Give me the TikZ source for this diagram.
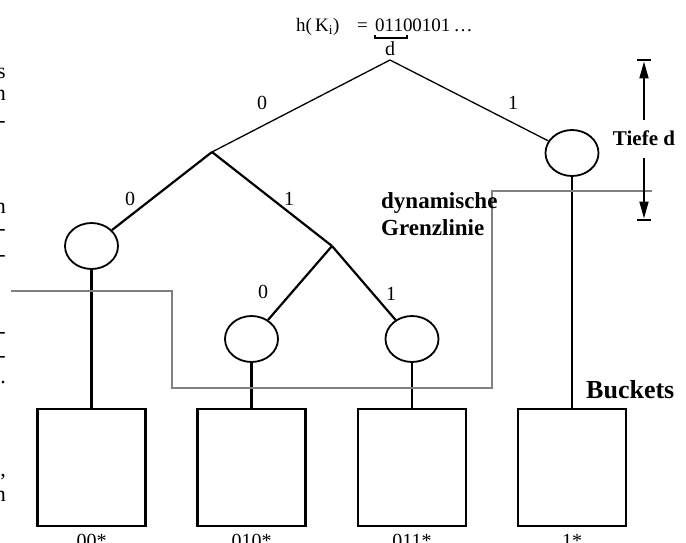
\documentclass[tikz,border=0pt]{standalone}
\usepackage{fontspec}
\setmainfont{Liberation Serif}
\usetikzlibrary{shapes.geometric,arrows.meta}
\newcommand\pxsize[1]{\fontsize{#1}{#1}\selectfont}
\begin{document}
\begin{tikzpicture}[x=1pt,y=-1pt,
  rootline/.style={line width=1.3pt},
  branch/.style={line width=2.2pt},
  leaf/.style={draw,ellipse,line width=1.8pt,minimum width=53pt,minimum height=46pt,inner sep=0pt},
  bucket/.style={draw,rectangle,line width=2.3pt,minimum width=108pt,minimum height=117pt,inner sep=0pt},
  bitlabel/.style={font=\pxsize{20},inner sep=0pt},
  bucketlabel/.style={font=\pxsize{20},inner sep=0pt,anchor=base},
  margintext/.style={font=\pxsize{22},inner sep=0pt,anchor=base east},
  boundary/.style={draw=black!50,line width=2pt},
  dimarrow/.style={line width=1.8pt,-{Triangle[width=9pt,length=17pt]}},
  dimbar/.style={line width=1.8pt},
  boldtext/.style={font=\bfseries\pxsize{#1},inner sep=0pt}
]
\useasboundingbox (0,0) rectangle (686,543);
\clip (0,0) rectangle (686,543);

% line ends of the neighbouring paragraph
\node[margintext] (m1) at (6,78) {s};
\node[margintext] (m2) at (6,100) {n};
\node[margintext] (m3) at (6,128) {-};
\node[margintext] (m4) at (6,213) {n};
\node[margintext] (m5) at (6,235) {-};
\node[margintext] (m6) at (6,261) {-};
\node[margintext] (m7) at (6,338) {-};
\node[margintext] (m8) at (6,362) {-};
\node[margintext] (m9) at (6,383) {.};
\node[margintext] (m10) at (6,476) {,};
\node[margintext] (m11) at (6,501) {n};

% hash value and depth bracket
\node[font=\pxsize{19},inner sep=0pt,anchor=base west] (hk) at (296,32) {h(\,K\textsubscript{i})};
\node[font=\pxsize{19},inner sep=0pt,anchor=base east] (eq) at (368,32) {=};
\node[font=\pxsize{19},inner sep=0pt,anchor=base west] (bits) at (375,32) {01100101\,\dots};
\draw[line width=1.8pt] (375,35) -- (375,38) -- (407,38) -- (407,35);
\node[font=\pxsize{20},inner sep=0pt,anchor=base] (dlab) at (390,56) {d};

% tree
\coordinate (R) at (390,60);
\coordinate (A) at (212,152);
\coordinate (B) at (332,246);
\node[leaf] (E1) at (91.5,246) {};
\node[leaf] (E2) at (251.5,339) {};
\node[leaf] (E3) at (412,339) {};
\node[leaf] (E4) at (572,153) {};

\draw[rootline] (R) -- (A);
\draw[rootline] (R) -- (E4);
\draw[branch] (A) -- (E1);
\draw[branch] (A) -- (B);
\draw[branch] (B) -- (E2);
\draw[branch] (B) -- (E3);

\node[bitlabel] (l1) at (262,103) {0};
\node[bitlabel] (l2) at (513,103) {1};
\node[bitlabel] (l3) at (130,199) {0};
\node[bitlabel] (l4) at (289,199) {1};
\node[bitlabel] (l5) at (263,292) {0};
\node[bitlabel] (l6) at (391,294) {1};

% buckets
\node[bucket] (K1) at (91.5,467.5) {};
\node[bucket] (K2) at (251.5,467.5) {};
\node[bucket] (K3) at (412,467.5) {};
\node[bucket] (K4) at (572,467.5) {};

\draw[branch] (E1) -- (K1);
\draw[branch] (E2) -- (K2);
\draw[branch] (E3) -- (K3);
\draw[branch] (E4) -- (K4);

\path (K1.south) ++(0,20.5) node[bucketlabel] (p1) {00*};
\path (K2.south) ++(0,20.5) node[bucketlabel] (p2) {010*};
\path (K3.south) ++(0,20.5) node[bucketlabel] (p3) {011*};
\path (K4.south) ++(0,20.5) node[bucketlabel] (p4) {1*};

% dynamic boundary line
\draw[boundary] (11,291) -- (172,291) -- (172,388) -- (492,388) -- (492,191) -- (652,191);
\node[boldtext=23,anchor=base west] (dyn1) at (381,208) {dynamische};
\node[boldtext=23,anchor=base west] (dyn2) at (381,235) {Grenzlinie};

% depth dimension
\coordinate (tt) at (644,60);
\coordinate (tb) at (644,220);
\node[boldtext=21,anchor=base,inner ysep=11.3pt] (tiefe) at (644,146) {Tiefe d};
\draw[dimbar] ([xshift=-7pt]tt) -- ([xshift=7pt]tt);
\draw[dimbar] ([xshift=-7pt]tb) -- ([xshift=7pt]tb);
\draw[dimarrow,shorten >=1.5pt] (tiefe) -- (tt);
\draw[dimarrow,shorten >=1.5pt] (tiefe) -- (tb);

\node[boldtext=26,anchor=base west] (bk) at (586,398) {Buckets};
\end{tikzpicture}
\end{document}
